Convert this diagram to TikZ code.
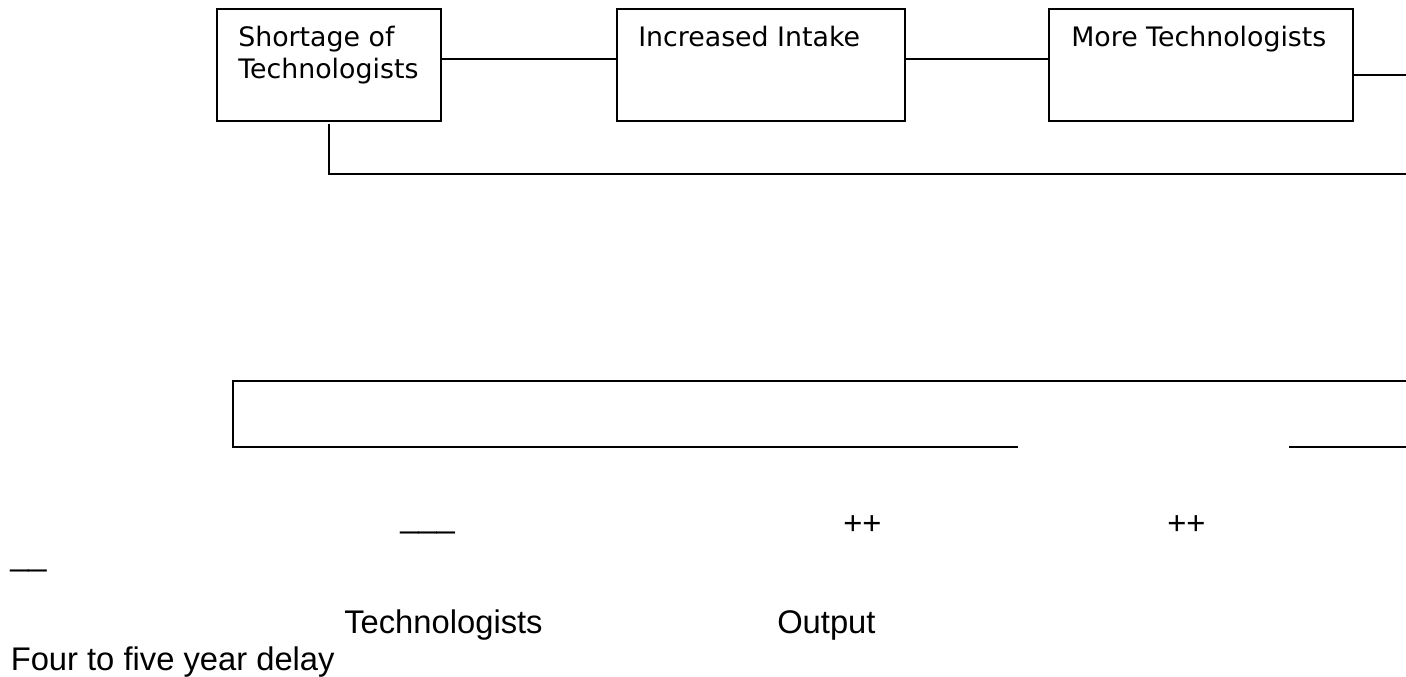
\documentclass[tikz,border=0pt]{standalone}
\usepackage{fontspec}
\setmainfont{Liberation Sans}
\newfontfamily\boxfont{DejaVu Sans}
\begin{document}
\begin{tikzpicture}[x=0.75pt,y=-0.75pt,
  stage/.style={draw=black, line width=1.5pt, inner sep=0pt, outer sep=0pt,
    anchor=north west, minimum height=84pt},
  boxlabel/.style={anchor=base west, inner sep=0pt, align=left,
    font=\boxfont\fontsize{20.1pt}{24pt}\selectfont},
  note/.style={anchor=base west, inner sep=0pt,
    font=\fontsize{24.55pt}{29pt}\selectfont},
  link/.style={draw=black, line width=1.5pt},
  frame/.style={draw=black, line width=2.1pt}]
\useasboundingbox (0,0) rectangle (1406,677);

% the three stages of the loop
\node[stage, minimum width=168pt] (b1) at (217,9) {};
\node[stage, minimum width=216pt] (b2) at (617,9) {};
\node[stage, minimum width=228pt] (b3) at (1049,9) {};

% a two-line label sits on the baseline of its last line
\node[boxlabel] (t1) at ([xshift=15.75pt,yshift=-52.5pt]b1.north west) {Shortage of\\Technologists};
\node[boxlabel] (t2) at ([xshift=15.75pt,yshift=-28.5pt]b2.north west) {Increased Intake};
\node[boxlabel] (t3) at ([xshift=16.5pt,yshift=-28.5pt]b3.north west) {More Technologists};

% connectors between the stages
\coordinate (e1) at (1406,75);
\coordinate (e2) at (1406,174);
\draw[link] ([yshift=4.5pt]b1.east) -- ([yshift=4.5pt]b2.west);
\draw[link] ([yshift=4.5pt]b2.east) -- ([yshift=4.5pt]b3.west);
\draw[link] ([yshift=-7.5pt]b3.east) -- (e1);
\draw[link] ([yshift=-2.25pt]b1.south) |- (e2);

% lower open frame
\coordinate (r1) at (1406,381);
\coordinate (l1) at (233,381);
\coordinate (l2) at (233,447);
\coordinate (m1) at (1018,447);
\coordinate (m2) at (1289,447);
\coordinate (r2) at (1406,447);
\draw[frame] (r1) -- (l1) -- (l2) -- (m1);
\draw[frame] (m2) -- (r2);

% loose annotations
\node[note] (u1) at (400,527) {\_\_\_};
\node[note] (p1) at (843,534) {++};
\node[note] (p2) at (1167,534) {++};
\node[note] (u2) at (10,565) {\_\_};
\node[note] (n1) at (344,633) {Technologists};
\node[note] (n2) at (777,633) {Output};
\node[note] (n3) at (10.5,670) {Four to five year delay};
\end{tikzpicture}
\end{document}
